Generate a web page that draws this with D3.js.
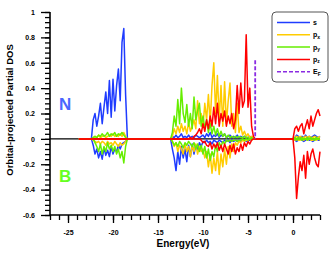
<!DOCTYPE html>
<html>
<head>
<meta charset="utf-8">
<script src="https://cdn.jsdelivr.net/npm/d3@7"></script>
<style>
  html, body { margin: 0; padding: 0; background: #fff; }
  svg { display: block; font-family: "Liberation Sans", Arial, sans-serif; }
</style>
</head>
<body>
<svg id="chart" width="333" height="253"></svg>
<script>
// ---------- data ----------
const energy = [
  -23.8,
  -22.4,-22.2,-22.0,-21.8,-21.6,-21.4,-21.2,-21.0,-20.8,-20.6,-20.4,-20.2,-20.0,-19.8,-19.6,-19.4,-19.2,-19.0,-18.8,-18.6,-18.4,
  -13.6,-13.4,-13.2,-13.0,-12.8,-12.6,-12.4,-12.2,-12.0,-11.8,-11.6,-11.4,-11.2,-11.0,-10.8,-10.6,
  -10.4,-10.2,-10.0,-9.8,-9.6,-9.4,-9.2,-9.0,-8.8,-8.6,-8.4,-8.2,-8.0,-7.8,-7.6,-7.4,
  -7.2,-7.0,-6.8,-6.6,-6.4,-6.2,-6.0,-5.8,-5.6,-5.4,-5.2,-5.0,-4.8,-4.6,-4.4,-4.2,
  0.0,0.2,0.4,0.6,0.8,1.0,1.2,1.4,1.6,1.8,2.0,2.2,2.4,2.6,2.8,3.0
];
// s orbital, N (positive) and B (negative)
const sN = [0,
  0,0.15,0.2,0.1,0.18,0.28,0.12,0.25,0.37,0.2,0.46,0.17,0.47,0.22,0.42,0.55,0.3,0.76,0.87,0.35,0,
  0,0.02,0.01,0.03,0.01,0.02,0.04,0.01,0.02,0.01,0.03,0.01,0.02,0.01,0.03,0.02,
  0.01,0.02,0.03,0.01,0.04,0.02,0.05,0.01,0.03,0.02,0.04,0.01,0.03,0.02,0.04,0.01,
  0.02,0.03,0.01,0.02,0.01,0.03,0.01,0.02,0.01,0.02,0.01,0.01,0.02,0.01,0,0,
  0,0.01,0.03,0.02,0.01,0.02,0.01,0.03,0.01,0.02,0.01,0.02,0.03,0.02,0.01,0.02];
const sB = [0,
  0,-0.05,-0.12,-0.08,-0.15,-0.1,-0.16,-0.07,-0.13,-0.09,-0.14,-0.06,-0.12,-0.08,-0.1,-0.05,-0.08,-0.04,-0.03,-0.02,0,
  0,-0.08,-0.15,-0.25,-0.1,-0.2,-0.06,-0.15,-0.08,-0.18,-0.05,-0.14,-0.04,-0.12,-0.05,-0.09,
  -0.03,-0.06,-0.02,-0.03,-0.01,-0.03,-0.02,-0.04,-0.01,-0.02,-0.03,-0.01,-0.02,-0.03,-0.01,-0.02,
  -0.01,-0.03,-0.01,-0.02,-0.01,-0.02,-0.01,-0.02,-0.01,-0.01,-0.02,-0.01,-0.01,0,0,0,
  0,-0.01,-0.02,-0.01,0,-0.01,-0.02,-0.01,0,-0.01,-0.01,-0.02,-0.01,0,-0.01,-0.01];
// px orbital
const pxN = [0,
  0,0.01,0.02,0.01,0.03,0.01,0.02,0.03,0.01,0.02,0.03,0.02,0.04,0.02,0.03,0.02,0.04,0.02,0.05,0.02,0,
  0,0.02,0.08,0.04,0.1,0.05,0.12,0.06,0.1,0.04,0.13,0.06,0.1,0.15,0.08,0.3,
  0.12,0.2,0.1,0.28,0.15,0.35,0.12,0.42,0.6,0.2,0.5,0.15,0.42,0.1,0.45,0.12,
  0.3,0.44,0.1,0.2,0.05,0.28,0.05,0.1,0.03,0.06,0.02,0.04,0.01,0.02,0.01,0,
  0,0.01,0.02,0.01,0.02,0.01,0.01,0.02,0.01,0.02,0.01,0.01,0.02,0.01,0.01,0.02];
const pxB = [0,
  0,-0.01,-0.02,-0.03,-0.02,-0.04,-0.02,-0.03,-0.05,-0.02,-0.04,-0.03,-0.05,-0.02,-0.04,-0.06,-0.03,-0.05,-0.04,-0.02,0,
  0,-0.02,-0.06,-0.03,-0.1,-0.05,-0.08,-0.12,-0.04,-0.1,-0.06,-0.14,-0.05,-0.1,-0.04,-0.12,
  -0.06,-0.1,-0.08,-0.15,-0.1,-0.22,-0.12,-0.27,-0.15,-0.25,-0.1,-0.28,-0.12,-0.22,-0.08,-0.2,
  -0.06,-0.15,-0.04,-0.1,-0.03,-0.05,-0.02,-0.03,-0.01,-0.02,-0.01,-0.01,0,-0.01,0,0,
  0,-0.01,0,-0.01,-0.01,0,-0.01,0,-0.01,0,-0.01,-0.01,0,-0.01,0,-0.01];
// py orbital
const pyN = [0,
  0,0.01,0.02,0.01,0.03,0.02,0.04,0.02,0.03,0.05,0.02,0.04,0.03,0.05,0.02,0.04,0.03,0.05,0.03,0.01,0,
  0,0.05,0.18,0.1,0.31,0.12,0.4,0.2,0.13,0.27,0.1,0.2,0.08,0.33,0.15,0.22,
  0.28,0.1,0.18,0.08,0.15,0.05,0.12,0.04,0.1,0.03,0.08,0.02,0.06,0.02,0.04,0.01,
  0.03,0.01,0.02,0.01,0.02,0.01,0.02,0.01,0.01,0.02,0.01,0.01,0,0.01,0,0,
  0,0.01,0,0.01,0,0.01,0,0,0.01,0,0.01,0,0,0.01,0,0];
const pyB = [0,
  0,0,-0.03,-0.06,-0.1,-0.04,-0.12,-0.06,-0.1,-0.03,-0.08,-0.05,-0.1,-0.06,-0.12,-0.08,-0.15,-0.1,-0.19,-0.06,0,
  0,-0.02,-0.05,-0.03,-0.06,-0.02,-0.04,-0.07,-0.03,-0.05,-0.02,-0.04,-0.06,-0.03,-0.08,-0.04,
  -0.1,-0.05,-0.12,-0.06,-0.15,-0.08,-0.17,-0.1,-0.14,-0.05,-0.1,-0.03,-0.06,-0.02,-0.04,-0.01,
  -0.02,-0.01,-0.02,-0.01,-0.01,-0.02,-0.01,-0.01,0,-0.01,0,-0.01,0,0,0,0,
  0,0,-0.01,0,0,-0.01,0,0,-0.01,0,0,0,-0.01,0,0,0];
// pz orbital
const pzN = [0,
  0,0,0,0,0,0,0,0,0,0,0,0,0,0,0,0,0,0,0,0,0,
  0,0,0,0,0,0,0,0,0,0,0,0.01,0,0.02,0.03,0.05,
  0.08,0.04,0.12,0.06,0.15,0.08,0.18,0.1,0.25,0.12,0.28,0.1,0.2,0.14,0.22,0.1,
  0.18,0.12,0.2,0.08,0.15,0.42,0.2,0.44,0.25,0.3,0.82,0.25,0.4,0.1,0.02,0,
  0,0.08,0.1,0.06,0.1,0.12,0.04,0.1,0.15,0.08,0.18,0.1,0.15,0.2,0.23,0.18];
const pzB = [0,
  0,0,0,0,0,0,0,0,0,0,0,0,0,0,0,0,0,0,0,0,0,
  0,0,0,0,0,0,0,0,0,0,0,0,0,0,0,0,
  0,-0.01,-0.03,-0.02,-0.05,-0.06,-0.03,-0.08,-0.04,-0.07,-0.03,-0.09,-0.05,-0.1,-0.04,-0.08,
  -0.12,-0.05,-0.1,-0.04,-0.12,-0.07,-0.1,-0.04,-0.09,-0.03,-0.06,-0.02,-0.04,-0.01,0,0,
  0,-0.15,-0.47,-0.3,-0.18,-0.25,-0.13,-0.31,-0.1,-0.2,-0.12,-0.08,-0.15,-0.2,-0.22,-0.1];

const fermiEnergy = -4.2;
const fermiTop = 0.62;

const xTickValues = [-25, -20, -15, -10, -5, 0];
const xTickLabels = ["-25", "-20", "-15", "-10", "-5", "0"];
const yTickValues = [-0.6, -0.4, -0.2, 0, 0.2, 0.4, 0.6, 0.8, 1];
const yTickLabels = ["-0.6", "-0.4", "-0.2", "0", "0.2", "0.4", "0.6", "0.8", "1"];

const seriesNames = ["s", "px", "py", "pz"];
const legendMain = ["s", "p", "p", "p", "E"];
const legendSub = ["", "x", "y", "z", "F"];

// ---------- drawing ----------
const colors = { s: "#1f3cff", px: "#ffcc00", py: "#66ee00", pz: "#ff0000", ef: "#8a2be2" };
const svg = d3.select("#chart");
const x = d3.scaleLinear().domain([-27, 3]).range([50, 320]);
const y = d3.scaleLinear().domain([-0.6, 1]).range([215, 12]);

// zero reference line
svg.append("line").attr("x1", x(-27)).attr("x2", x(3)).attr("y1", y(0)).attr("y2", y(0))
  .attr("stroke", "#000").attr("stroke-width", 1.2);

const line = d3.line().x(d => x(d[0])).y(d => y(d[1]));
const seriesData = [
  ["s", sN], ["s", sB], ["px", pxN], ["px", pxB], ["py", pyN], ["py", pyB], ["pz", pzN], ["pz", pzB]
];
seriesData.forEach(([key, vals]) => {
  svg.append("path")
    .datum(energy.map((e, i) => [e, vals[i]]))
    .attr("d", line)
    .attr("fill", "none")
    .attr("stroke", colors[key])
    .attr("stroke-width", 1.5)
    .attr("stroke-linejoin", "round");
});

// Fermi level
svg.append("line")
  .attr("x1", x(fermiEnergy)).attr("x2", x(fermiEnergy))
  .attr("y1", y(fermiTop)).attr("y2", y(0))
  .attr("stroke", colors.ef).attr("stroke-width", 1.8).attr("stroke-dasharray", "4,2");

// axes
const yMinor = d3.range(-0.6, 1.0001, 0.04).map(v => +v.toFixed(2));
const gy = svg.append("g").attr("transform", `translate(${x(-27)},0)`);
gy.call(d3.axisLeft(y).tickValues(yMinor).tickSize(5).tickFormat(""));
gy.call(g => g.select(".domain").remove());
const gyMaj = svg.append("g").attr("transform", `translate(${x(-27)},0)`)
  .call(d3.axisLeft(y).tickValues(yTickValues).tickSize(9).tickPadding(6)
    .tickFormat((d, i) => yTickLabels[i]));
gyMaj.select(".domain").attr("stroke-width", 1.6).attr("d", `M0,${y(1)}V${y(-0.6)}`);

const xMinor = d3.range(-27, 3.001, 1);
const gx = svg.append("g").attr("transform", `translate(0,${y(-0.6)})`);
gx.call(d3.axisBottom(x).tickValues(xMinor).tickSize(5).tickFormat(""));
gx.call(g => g.select(".domain").remove());
const gxMaj = svg.append("g").attr("transform", `translate(0,${y(-0.6)})`)
  .call(d3.axisBottom(x).tickValues(xTickValues).tickSize(8).tickPadding(7)
    .tickFormat((d, i) => xTickLabels[i]));
gxMaj.select(".domain").attr("stroke-width", 1.6).attr("d", `M${x(-27)},0H${x(3)}`);

svg.selectAll(".tick line").attr("stroke", "#000").attr("stroke-width", 1.3);
svg.selectAll(".tick text").attr("font-size", 7).attr("font-weight", "bold")
  .attr("font-family", "Liberation Sans, Arial, sans-serif").attr("fill", "#000");

// axis titles
svg.append("text").attr("x", 183).attr("y", 247).attr("text-anchor", "middle")
  .attr("font-size", 10).attr("font-weight", "bold").text("Energy(eV)");
svg.append("text").attr("transform", "translate(13,110) rotate(-90)").attr("text-anchor", "middle")
  .attr("font-size", 9.5).attr("font-weight", "bold").text("Orbital-projected Partial DOS");

// N / B labels
svg.append("text").attr("x", 59).attr("y", 110).attr("font-size", 17).attr("font-weight", "bold")
  .attr("fill", "#4a66ff").text("N");
svg.append("text").attr("x", 59).attr("y", 182).attr("font-size", 17).attr("font-weight", "bold")
  .attr("fill", "#66ff22").text("B");

// legend
const lg = svg.append("g");
lg.append("rect").attr("x", 272).attr("y", 12).attr("width", 56).attr("height", 70).attr("rx", 4)
  .attr("fill", "#fff").attr("stroke", "#555").attr("stroke-width", 1);
const legendColors = [colors.s, colors.px, colors.py, colors.pz, colors.ef];
legendMain.forEach((m, i) => {
  const yy = 22.5 + i * 12.3;
  lg.append("line").attr("x1", 277).attr("x2", 310).attr("y1", yy).attr("y2", yy)
    .attr("stroke", legendColors[i]).attr("stroke-width", 1.5)
    .attr("stroke-dasharray", i === 4 ? "4,2" : null);
  const t = lg.append("text").attr("x", 313).attr("y", yy + 2.5).attr("font-size", 7).attr("font-weight", "bold");
  t.append("tspan").text(m);
  if (legendSub[i]) t.append("tspan").attr("font-size", 5).attr("dy", 1.5).text(legendSub[i]);
});
</script>
</body>
</html>
